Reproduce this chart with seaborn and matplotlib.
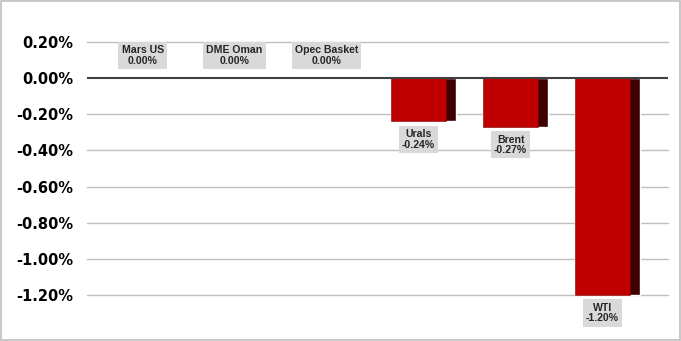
import matplotlib
matplotlib.use("Agg")
import matplotlib.pyplot as plt
import seaborn as sns
import pandas as pd
from matplotlib.patches import Rectangle

categories = ["Mars US", "DME Oman", "Opec Basket", "Urals", "Brent", "WTI"]
values = [0.00, 0.00, 0.00, -0.24, -0.27, -1.20]
yticks = [0.20, 0.00, -0.20, -0.40, -0.60, -0.80, -1.00, -1.20]

df = pd.DataFrame({"cat": categories, "val": values})

sns.set_theme(style="white")
fig = plt.figure(figsize=(6.81, 3.41), dpi=100)
ax = fig.add_axes([0.128, 0.135, 0.853, 0.742])

# grid lines
for t in yticks:
    if t == 0:
        continue
    ax.axhline(t, color="#BFBFBF", lw=1.0, zorder=0, clip_on=False)

full_w = 0.71
front_w = 0.60
shift = (full_w - front_w) / 2

# dark side face (full width) then red front face
sns.barplot(data=df, x="cat", y="val", color="#3F0000", saturation=1,
            width=full_w, ax=ax, zorder=2)
n_side = len(ax.patches)
sns.barplot(data=df, x="cat", y="val", color="#C00000", saturation=1,
            width=front_w, ax=ax, zorder=3)
for p in ax.patches[n_side:]:
    p.set_x(p.get_x() - shift)
    p.set_edgecolor("#7a0000")
    p.set_linewidth(0.4)
for p in ax.patches:
    p.set_clip_on(False)

ax.axhline(0, color="#404040", lw=1.5, zorder=4)

ax.set_ylim(-1.2, 0.2)
ax.set_xlim(-0.658, len(categories) - 1 + 0.658)
ax.set_yticks(yticks)
ax.set_yticklabels([f"{t:.2f}%" for t in yticks], fontsize=10.5,
                   fontweight="bold", color="black", family="DejaVu Sans")
ax.tick_params(axis="y", length=0, pad=10)
ax.set_xticks([])
ax.set_xlabel("")
ax.set_ylabel("")
for s in ax.spines.values():
    s.set_visible(False)

# data labels
for i, (c, v) in enumerate(zip(categories, values)):
    txt = f"{c}\n{v:.2f}%"
    if v >= 0:
        ax.annotate(txt, (i - shift, 0.127), ha="center", va="center",
                    fontsize=7.6, fontweight="bold", family="Liberation Sans",
                    linespacing=1.1,
                    bbox=dict(boxstyle="square,pad=0.3", fc="#D9D9D9", ec="none"),
                    zorder=5)
    else:
        ax.annotate(txt, (i - shift, v), xytext=(0, -5.5), textcoords="offset points",
                    ha="center", va="top",
                    fontsize=7.6, fontweight="bold", family="Liberation Sans",
                    linespacing=1.1,
                    bbox=dict(boxstyle="square,pad=0.3", fc="#D9D9D9", ec="none"),
                    zorder=5, annotation_clip=False)

fig.patches.append(Rectangle((0.001, 0.002), 0.997, 0.995, transform=fig.transFigure,
                             fill=False, ec="#BFBFBF", lw=1.2))

fig.savefig("out.png", dpi=100)
